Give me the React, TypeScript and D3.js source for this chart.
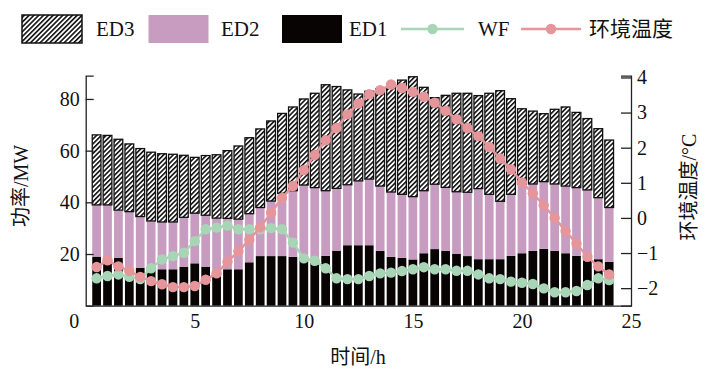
import React, { useEffect, useRef } from "react";
import * as d3 from "d3";

const hours = [0.5, 1, 1.5, 2, 2.5, 3, 3.5, 4, 4.5, 5, 5.5, 6, 6.5, 7, 7.5, 8, 8.5, 9, 9.5, 10, 10.5, 11, 11.5, 12,
  12.5, 13, 13.5, 14, 14.5, 15, 15.5, 16, 16.5, 17, 17.5, 18, 18.5, 19, 19.5, 20, 20.5, 21, 21.5, 22, 22.5, 23, 23.5, 24];

const ed1 = [19, 17.5, 18.5, 14, 14.7, 14.1, 14.1, 14.1, 15.1, 16.4, 15.1, 12.5, 14.1, 14.1, 16.8, 19.2,
  19.2, 19.2, 18.9, 17.8, 17.5, 19.3, 21.3, 23.4, 23.4, 23.4, 21.2, 18.9, 18.5, 17.9, 20.3, 21.9,
  21.2, 20, 19.2, 18, 18, 18, 19.3, 20.3, 21.2, 22, 21.2, 20.3, 19.3, 17.6, 18, 17];
const ed2 = [20, 21.5, 18.5, 22.4, 19.8, 18.7, 18.3, 18.3, 19.1, 19.4, 19.9, 21.4, 19.7, 19.4, 18.8, 18.8,
  21.3, 24.3, 25.6, 28.9, 28.2, 25.2, 24.1, 23.4, 24.9, 25.6, 25.1, 25.1, 24.6, 24.3, 24.2, 25.1,
  24.6, 24.1, 24.7, 27.3, 25.1, 22.4, 23.8, 26.8, 25.9, 26, 25.9, 26, 26.4, 27.2, 23.8, 21];
const ed3 = [27.1, 26.9, 27.4, 26.2, 26.3, 26.6, 26.4, 26.2, 24, 21.6, 23.1, 24.5, 26.2, 28.3, 29.4, 30.4,
  31, 30.9, 32.4, 33.3, 36.5, 41, 39.4, 36.7, 33.6, 34, 37.7, 41.8, 44.2, 46.4, 40, 33.5,
  35.6, 38.1, 38.3, 36, 39.1, 42.8, 37, 29.1, 28.2, 26.3, 28.9, 30.6, 29.1, 27.6, 26.7, 26.1];
const wf = [10.6, 11.5, 12.1, 11.2, 10.3, 14.5, 17.9, 19.2, 20.5, 25, 29.6, 30.2, 31, 29.6, 29.6, 29.6,
  30, 29.6, 24.4, 18.3, 17.4, 14.5, 10.6, 10.3, 10.3, 11.5, 12.5, 12.8, 13.4, 14.1, 14.9, 14.1,
  14.1, 13.5, 13.5, 12.1, 10.6, 10.3, 9.3, 8.9, 8.4, 6.7, 5.2, 5.2, 5.7, 8, 10.6, 9.9];
const temp = [-1.40, -1.21, -1.38, -1.51, -1.68, -1.80, -1.89, -1.97, -1.97, -1.94, -1.76, -1.58, -1.25, -0.95, -0.62, -0.27,
  0.15, 0.57, 0.91, 1.36, 1.79, 2.21, 2.56, 2.95, 3.26, 3.52, 3.64, 3.80, 3.70, 3.59, 3.45, 3.28,
  3.05, 2.81, 2.56, 2.33, 2.02, 1.69, 1.38, 1.01, 0.70, 0.36, 0.00, -0.37, -0.73, -1.11, -1.38, -1.61];

const xTicks = [0, 5, 10, 15, 20, 25];
const yLeftTicks = [20, 40, 60, 80];
const yRightTicks = [-2, -1, 0, 1, 2, 3, 4];
const seriesKeys = ["ED1", "ED2", "ED3"];
const legendLabels = ["ED3", "ED2", "ED1", "WF", "环境温度"];

const W = 713, H = 382;
const FONT = "'Liberation Serif', 'Times New Roman', 'Noto Sans CJK SC', serif";
const C_PINK_BAR = "#c89bc0";
const C_BLACK = "#080404";
const C_GREEN = "#a8d5b5";
const C_TEMP = "#e6959b";

export default function App() {
  const ref = useRef<SVGSVGElement>(null);
  useEffect(() => {
    const svg = d3.select(ref.current);
    svg.selectAll("*").remove();

    const left = 85.7, right = 631, top = 75.7, bottom = 305.7;
    const x = d3.scaleLinear().domain([0, 25]).range([left, right]);
    const yL = d3.scaleLinear().domain([0, 89]).range([bottom, top]);
    const yR = d3.scaleLinear().domain([-2.5, 4.05]).range([bottom, top]);

    const defs = svg.append("defs");
    const pat = defs.append("pattern").attr("id", "hatch").attr("patternUnits", "userSpaceOnUse")
      .attr("width", 3.4).attr("height", 3.4).attr("patternTransform", "rotate(45)");
    pat.append("rect").attr("width", 3.4).attr("height", 3.4).attr("fill", "#fff");
    pat.append("line").attr("x1", 0.8).attr("y1", 0).attr("x2", 0.8).attr("y2", 3.4)
      .attr("stroke", "#000").attr("stroke-width", 1.5);

    const table = hours.map((h, i) => ({ h, ED1: ed1[i], ED2: ed2[i], ED3: ed3[i] }));
    const stacked = d3.stack<any>().keys(seriesKeys)(table);
    const bw = (x(0.5) - x(0)) * 0.8;
    const fills: Record<string, string> = { ED1: C_BLACK, ED2: C_PINK_BAR, ED3: "url(#hatch)" };

    stacked.forEach((layer) => {
      const g = svg.append("g");
      g.selectAll("rect").data(layer).join("rect")
        .attr("x", (d: any) => x(d.data.h) - bw / 2)
        .attr("width", bw)
        .attr("y", (d: any) => yL(d[1]))
        .attr("height", (d: any) => yL(d[0]) - yL(d[1]))
        .attr("fill", fills[layer.key])
        .attr("stroke", layer.key === "ED3" ? "#111" : "none")
        .attr("stroke-width", layer.key === "ED3" ? 1.3 : 0);
    });

    // WF line
    const lineWF = d3.line<number>().x((_, i) => x(hours[i])).y((d) => yL(d));
    svg.append("path").attr("d", lineWF(wf)!).attr("fill", "none").attr("stroke", C_GREEN).attr("stroke-width", 2.5);
    svg.append("g").selectAll("circle").data(wf).join("circle")
      .attr("cx", (_, i) => x(hours[i])).attr("cy", (d) => yL(d)).attr("r", 5.2).attr("fill", C_GREEN);

    const lineT = d3.line<number>().x((_, i) => x(hours[i])).y((d) => yR(d));
    svg.append("path").attr("d", lineT(temp)!).attr("fill", "none").attr("stroke", C_TEMP).attr("stroke-width", 2.5);
    svg.append("g").selectAll("circle").data(temp).join("circle")
      .attr("cx", (_, i) => x(hours[i])).attr("cy", (d) => yR(d)).attr("r", 5.2).attr("fill", C_TEMP);

    // axes
    const styleAxis = (g: any) => {
      g.selectAll("path").attr("stroke", "#222").attr("stroke-width", 1.3);
      g.selectAll("line").attr("stroke", "#222").attr("stroke-width", 1.3);
      g.selectAll("text").attr("font-family", FONT).attr("font-size", 20).attr("fill", "#111");
    };
    const gL = svg.append("g").attr("transform", `translate(${left},0)`)
      .call(d3.axisLeft(yL).tickValues(yLeftTicks).tickSizeInner(-8).tickSizeOuter(-8).tickPadding(6));
    styleAxis(gL);
    const gR = svg.append("g").attr("transform", `translate(${right},0)`)
      .call(d3.axisRight(yR).tickValues(yRightTicks).tickSizeInner(-10).tickSizeOuter(-10).tickPadding(6)
        .tickFormat((d: any) => (d < 0 ? "\u2212" + Math.abs(d) : String(d))));
    styleAxis(gR);
    const gB = svg.append("g").attr("transform", `translate(0,${bottom})`)
      .call(d3.axisBottom(x).tickValues(xTicks).tickSizeInner(0).tickSizeOuter(0).tickPadding(8));
    styleAxis(gB);
    gB.selectAll("text").filter((d: any) => d === 0).attr("dx", -12);

    // axis titles
    svg.append("text").attr("transform", `translate(28,186) rotate(-90)`).attr("text-anchor", "middle")
      .attr("font-family", FONT).attr("font-size", 20).attr("fill", "#111").text("功率/MW");
    svg.append("text").attr("transform", `translate(696,187) rotate(-90)`).attr("text-anchor", "middle")
      .attr("font-family", FONT).attr("font-size", 20).attr("fill", "#111").text("环境温度/°C");
    svg.append("text").attr("x", 358).attr("y", 364).attr("text-anchor", "middle")
      .attr("font-family", FONT).attr("font-size", 20).attr("fill", "#111").text("时间/h");

    // legend
    const lg = svg.append("g");
    const ly = 29;
    const boxes = [
      { x: 22, fill: "url(#hatch)", stroke: "#111" },
      { x: 148.5, fill: C_PINK_BAR, stroke: "none" },
      { x: 282, fill: C_BLACK, stroke: "none" },
    ];
    const textX = [96, 221, 349, 478, 589];
    boxes.forEach((b) => {
      lg.append("rect").attr("x", b.x).attr("y", ly - 14).attr("width", 60).attr("height", 28)
        .attr("fill", b.fill).attr("stroke", b.stroke).attr("stroke-width", 1.5);
    });
    const lines = [{ x1: 401, x2: 464, c: C_GREEN }, { x1: 521, x2: 581, c: C_TEMP }];
    lines.forEach((l) => {
      lg.append("line").attr("x1", l.x1).attr("x2", l.x2).attr("y1", ly).attr("y2", ly)
        .attr("stroke", l.c).attr("stroke-width", 2.5);
      lg.append("circle").attr("cx", (l.x1 + l.x2) / 2).attr("cy", ly).attr("r", 5.2).attr("fill", l.c);
    });
    legendLabels.forEach((t, i) => {
      lg.append("text").attr("x", textX[i]).attr("y", ly + 7).attr("font-family", FONT)
        .attr("font-size", 21).attr("fill", "#111").text(t);
    });
  }, []);

  return (
    <svg ref={ref} width={W} height={H} style={{ position: "absolute", left: 0, top: 0, background: "#fff" }} />
  );
}
